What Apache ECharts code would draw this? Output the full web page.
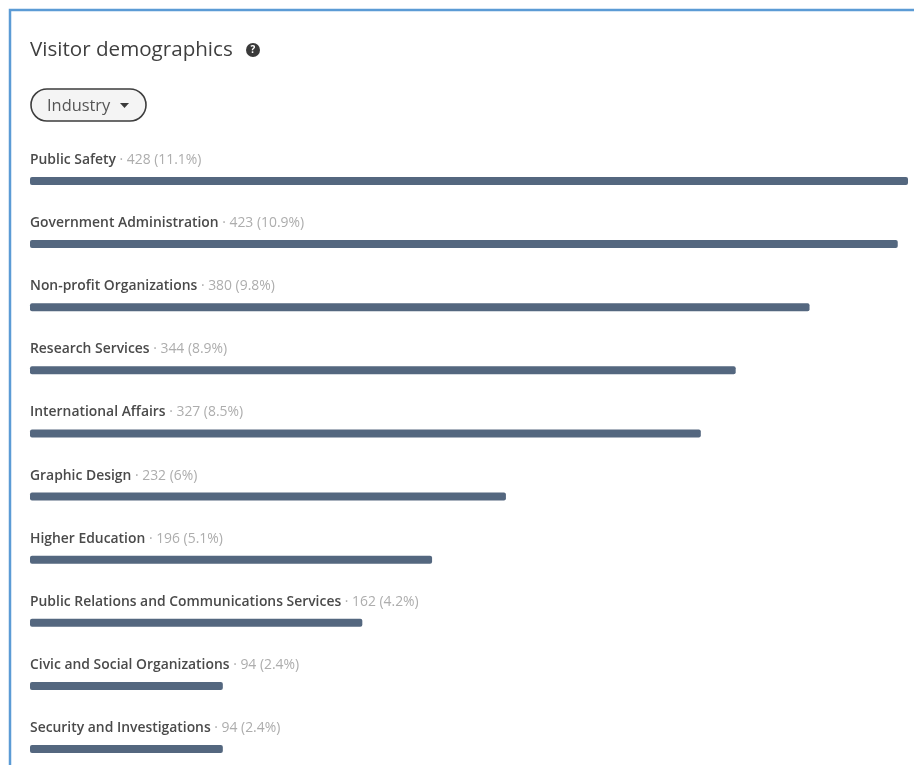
<!DOCTYPE html>
<html><head><meta charset="utf-8">
<style>html,body{margin:0;padding:0;background:#fff}#c{width:914px;height:765px}</style>
<script src="https://cdn.jsdelivr.net/npm/echarts@6/dist/echarts.min.js"></script>
</head><body><div id="c"></div>
<script>
const categories = ['Public Safety','Government Administration','Non-profit Organizations','Research Services','International Affairs','Graphic Design','Higher Education','Public Relations and Communications Services','Civic and Social Organizations','Security and Investigations'];
const visitors = [428,423,380,344,327,232,196,162,94,94];
const shares = ['11.1%','10.9%','9.8%','8.9%','8.5%','6%','5.1%','4.2%','2.4%','2.4%'];
const titleText = 'Visitor demographics';
const filterText = 'Industry';
const FONT = '"Open Sans","Noto Sans",sans-serif';
const chart = echarts.init(document.getElementById('c'));
chart.setOption({
  animation:false,
  backgroundColor:'#fff',
  title:{text:titleText,left:30,top:40,padding:0,textStyle:{fontFamily:FONT,fontSize:20.6,fontWeight:500,color:'#3f3f3f'}},
  grid:{left:30,top:181,width:878,height:568},
  xAxis:{type:'value',min:0,max:428,show:false},
  yAxis:{type:'category',inverse:true,boundaryGap:false,data:categories,show:false},
  series:[{
    type:'bar',
    data:visitors,
    barWidth:8,
    itemStyle:{color:'#54677f',borderRadius:2},
    label:{
      show:true,
      position:[0,-24],
      formatter:p=>`{n|${p.name}}{v| · ${p.value} (${shares[p.dataIndex]})}`,
      rich:{
        n:{fontFamily:FONT,fontSize:13.9,fontWeight:600,color:'#4a4a4a'},
        v:{fontFamily:FONT,fontSize:13.9,color:'#adadad'}
      }
    },
    clip:false
  }],
  graphic:[
    {type:'rect',silent:true,shape:{x:10,y:10,width:906,height:757},style:{fill:'none',stroke:'#5b9bd5',lineWidth:2.5}},
    {type:'circle',shape:{cx:253,cy:50,r:7},style:{fill:'#3a3a3a'}},
    {type:'text',style:{x:253,y:50,text:'?',align:'center',verticalAlign:'middle',fill:'#fff',font:'bold 10px '+FONT}},
    {type:'rect',shape:{x:31,y:89,width:115,height:32,r:16},style:{fill:'#f4f4f4',stroke:'#3d3d3d',lineWidth:1.6}},
    {type:'text',style:{x:47,y:106.5,text:filterText,verticalAlign:'middle',fill:'#555',font:'500 16.4px '+FONT}},
    {type:'polygon',shape:{points:[[120,103],[129,103],[124.5,108]]},style:{fill:'#3a3a3a'}}
  ]
});
</script></body></html>
